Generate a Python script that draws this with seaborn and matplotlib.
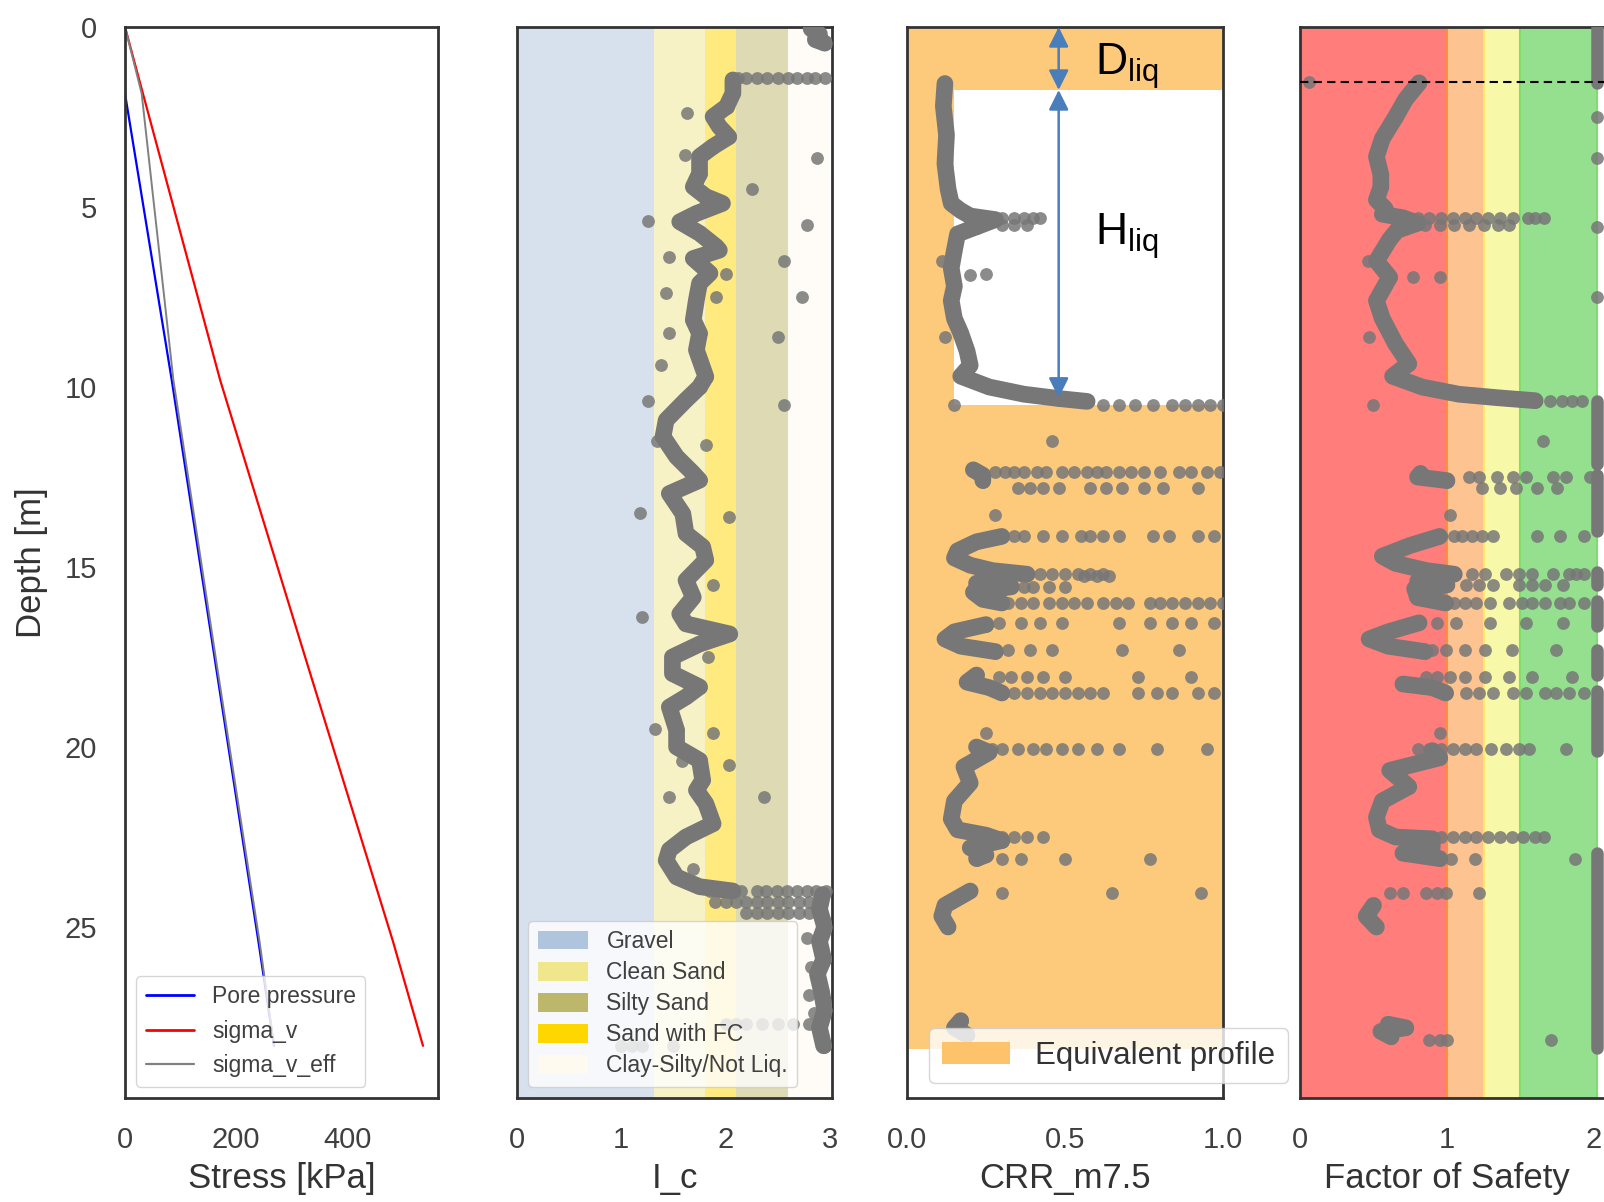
import matplotlib
matplotlib.use("Agg")
import matplotlib.pyplot as plt
from matplotlib.patches import Patch
from matplotlib.lines import Line2D
import seaborn as sns

# ---------------- panel 1 : stresses ----------------
stress_depth = [0.0, 9.8, 17.6, 25.4, 28.3]
sigma_v = [0, 171, 326, 482, 536]
eff_depth = [0.0, 1.85, 9.8, 17.6, 25.4, 28.3]
sigma_v_eff = [0, 30, 87, 164, 242, 268]
pore_depth = [1.85, 9.8, 17.6, 25.4, 28.3]
pore_pressure = [0, 84, 162, 240, 268]

# ---------------- panel 2 : Ic ----------------
ic_depth = [1.47, 1.84, 2.21, 2.49, 2.77, 3.05, 3.32, 3.6, 4.07, 4.44, 4.71, 4.9, 5.18, 5.41,
            5.73, 6.1, 6.2, 6.43, 6.84, 7.12, 7.58, 8.14, 8.51, 8.97, 9.71, 10.0, 10.36, 10.92,
            11.38, 11.94, 12.4, 12.59, 12.96, 13.52, 14.07, 14.44, 14.81, 15.37, 15.84, 16.3,
            16.58, 16.86, 17.14, 17.5, 17.96, 18.33, 18.61, 18.89, 19.53, 20.0, 20.37, 20.92,
            21.2, 21.57, 22.13, 22.5, 22.86, 23.15, 23.61, 23.88, 24.0,
            24.1, 24.5, 25.0, 25.4, 25.9, 26.3, 26.8, 27.3, 27.8, 28.3,
            0.05, 0.2, 0.35, 0.45]
ic_value = [2.07, 2.07, 2.01, 1.88, 1.94, 2.03, 1.88, 1.75, 1.75, 1.69, 1.81, 1.97, 1.72, 1.56,
            1.75, 1.91, 1.94, 1.69, 1.85, 1.75, 1.72, 1.69, 1.75, 1.72, 1.81, 1.75, 1.62, 1.43,
            1.40, 1.53, 1.69, 1.75, 1.46, 1.59, 1.62, 1.78, 1.81, 1.62, 1.69, 1.56,
            1.62, 2.04, 1.75, 1.49, 1.49, 1.75, 1.62, 1.46, 1.53, 1.53, 1.75, 1.78,
            1.72, 1.81, 1.88, 1.62, 1.46, 1.43, 1.53, 1.75, 2.07,
            2.93, 2.9, 2.95, 2.9, 2.94, 2.88, 2.92, 2.95, 2.9, 2.94,
            2.82, 2.9, 2.86, 2.95]
ic_seg = [0] * 61 + [1] * 10 + [2] * 4

ic_dot_depth = [2.4, 3.55, 3.65, 4.5, 5.4, 5.5, 6.4, 6.5, 6.85, 7.4, 7.5, 7.5, 8.5, 8.6, 9.4,
                10.4, 10.5, 11.5, 11.6, 13.5, 13.6, 15.5, 16.4, 17.5, 19.5, 19.6, 20.4, 20.5,
                21.4, 21.4, 23.4, 28.3, 28.3, 28.3, 28.3, 25.3, 26.1, 26.9, 27.4]
ic_dot_value = [1.63, 1.61, 2.88, 2.25, 1.26, 2.78, 1.46, 2.56, 2.0, 1.43, 1.91, 2.73, 1.46, 2.5, 1.38,
                1.26, 2.56, 1.34, 1.81, 1.18, 2.03, 1.88, 1.2, 1.83, 1.32, 1.88, 1.58, 2.03,
                1.46, 2.37, 1.69, 1.0, 1.1, 1.2, 1.5, 2.78, 2.82, 2.8, 2.85]
ic_row_depth = [1.43, 24.0, 24.3, 24.6, 27.7]
ic_row_values = [[2.12, 2.2, 2.3, 2.4, 2.5, 2.6, 2.68, 2.78, 2.86, 2.95],
                 [1.85, 1.95, 2.05, 2.15, 2.3, 2.39, 2.49, 2.59, 2.68, 2.78, 2.87, 2.96],
                 [1.9, 2.0, 2.1, 2.2, 2.3, 2.4, 2.5, 2.6, 2.7, 2.8, 2.9],
                 [2.2, 2.3, 2.4, 2.5, 2.6, 2.7, 2.8],
                 [2.0, 2.1, 2.2, 2.35, 2.5, 2.65, 2.8]]

soil_names = ["Gravel", "Clean Sand", "Silty Sand", "Sand with FC", "Clay-Silty/Not Liq."]
soil_low = [0.0, 1.31, 2.1, 1.8, 2.6]
soil_high = [1.31, 1.8, 2.6, 2.1, 3.0]
soil_colors = ["lightsteelblue", "khaki", "darkkhaki", "gold", "floralwhite"]

# ---------------- panel 3 : CRR ----------------
crr_depth = [1.57, 2.2, 3.0, 3.8, 4.5, 4.9, 5.1, 5.25, 5.35, 5.55, 5.75, 6.2, 6.7,
             7.2, 7.6, 8.1, 8.5, 9.0, 9.4, 9.7, 10.0, 10.2, 10.32, 10.4,
             12.3, 12.45, 12.6,
             14.15, 14.3, 14.55, 14.75, 14.95, 15.1, 15.2,
             15.45, 15.55, 15.7, 15.9, 16.0,
             16.6, 16.8, 17.0, 17.2, 17.35,
             18.0, 18.2, 18.35, 18.5,
             20.0, 20.15, 20.55, 21.0, 21.5, 22.0, 22.3, 22.45, 22.6, 22.8, 23.0, 23.1,
             24.0, 24.4, 24.7, 25.0,
             27.6, 27.8, 28.0]
crr_value = [0.12, 0.115, 0.125, 0.12, 0.13, 0.14, 0.17, 0.2, 0.28, 0.22, 0.16, 0.15, 0.14,
             0.15, 0.14, 0.15, 0.17, 0.19, 0.2, 0.17, 0.26, 0.37, 0.48, 0.57,
             0.21, 0.24, 0.24,
             0.3, 0.22, 0.16, 0.15, 0.2, 0.27, 0.38,
             0.22, 0.33, 0.21, 0.24, 0.3,
             0.25, 0.15, 0.12, 0.17, 0.28,
             0.22, 0.19, 0.26, 0.3,
             0.22, 0.26, 0.18, 0.2, 0.15, 0.14, 0.16, 0.25, 0.3, 0.2, 0.25, 0.22,
             0.2, 0.12, 0.11, 0.13,
             0.17, 0.15, 0.19]
crr_seg = [0] * 24 + [1] * 3 + [2] * 7 + [3] * 5 + [4] * 5 + [5] * 4 + [6] * 12 + [7] * 4 + [8] * 3

crr_dot_depth = [6.5, 6.85, 6.9, 8.6, 10.5, 11.5, 13.55, 19.6]
crr_dot_value = [0.11, 0.25, 0.2, 0.12, 0.15, 0.46, 0.28, 0.25]
crr_row_depth = [5.3, 5.5, 10.5, 12.35, 12.8, 14.15, 15.2, 15.25, 15.55, 16.0, 16.55, 17.3, 18.05,
                 18.5, 20.05, 22.5, 23.1, 24.05]
crr_row_values = [[0.22, 0.26, 0.3, 0.34, 0.37, 0.4, 0.42],
                  [0.3, 0.34, 0.38],
                  [0.62, 0.67, 0.72, 0.78, 0.84, 0.88, 0.92, 0.96, 1.0],
                  [0.28, 0.31, 0.34, 0.37, 0.41, 0.44, 0.49, 0.53, 0.57, 0.6, 0.63, 0.67, 0.71,
                   0.75, 0.8, 0.86, 0.9, 0.95, 0.99],
                  [0.35, 0.39, 0.43, 0.48, 0.58, 0.63, 0.68, 0.75, 0.81, 0.92],
                  [0.34, 0.37, 0.43, 0.49, 0.55, 0.58, 0.62, 0.67, 0.78, 0.83, 0.92, 0.97],
                  [0.42, 0.46, 0.5, 0.54, 0.58, 0.62],
                  [0.56, 0.6, 0.64],
                  [0.37, 0.4, 0.45, 0.5],
                  [0.32, 0.36, 0.4, 0.45, 0.49, 0.53, 0.57, 0.62, 0.66, 0.7, 0.77, 0.8, 0.84,
                   0.88, 0.92, 0.96, 1.0],
                  [0.29, 0.36, 0.42, 0.49, 0.67, 0.77, 0.84, 0.9, 0.97],
                  [0.32, 0.39, 0.46, 0.68, 0.86],
                  [0.29, 0.33, 0.38, 0.43, 0.5, 0.73, 0.9],
                  [0.34, 0.38, 0.42, 0.46, 0.5, 0.54, 0.58, 0.62, 0.73, 0.79, 0.84, 0.92, 0.97],
                  [0.27, 0.3, 0.35, 0.4, 0.44, 0.49, 0.54, 0.6, 0.67, 0.79, 0.95],
                  [0.3, 0.34, 0.38, 0.43],
                  [0.3, 0.36, 0.5, 0.77],
                  [0.3, 0.65, 0.93]]

equiv_depth = [0.0, 1.75, 1.75, 10.5, 10.5, 28.4]
equiv_crr = [1.0, 1.0, 0.15, 0.15, 1.0, 1.0]
d_liq = [0.0, 1.75]
h_liq = [1.75, 10.3]

# ---------------- panel 4 : factor of safety ----------------
fs_depth = [1.55, 2.0, 2.5, 3.1, 3.6, 4.1, 4.45, 4.8, 5.05, 5.2, 5.3, 5.45, 5.65, 5.9, 6.5, 6.95,
            7.6, 8.1, 8.8, 9.35, 9.7, 10.0, 10.2, 10.3, 10.38,
            12.4, 12.5, 12.6,
            14.15, 14.4, 14.7, 14.9, 15.1, 15.2,
            15.4, 15.5, 15.6, 15.85, 16.0,
            16.55, 16.8, 17.0, 17.2, 17.35,
            18.25, 18.35, 18.5,
            20.1, 20.3, 20.65, 21.1, 21.5, 21.95, 22.3, 22.5, 22.55, 22.8, 22.95, 23.1,
            24.4, 24.7, 25.0,
            27.7, 27.8, 27.9, 28.05]
fs_value = [0.81, 0.72, 0.65, 0.56, 0.52, 0.55, 0.55, 0.52, 0.58, 0.56, 0.7, 0.8, 0.66, 0.61, 0.52, 0.61,
            0.52, 0.56, 0.65, 0.74, 0.63, 0.83, 1.08, 1.35, 1.6,
            0.82, 0.8, 1.0,
            0.95, 0.75, 0.56, 0.65, 0.86, 1.05,
            0.8, 1.0, 0.78, 0.8, 0.99,
            0.81, 0.6, 0.47, 0.6, 0.85,
            0.7, 0.9, 0.99,
            0.9, 0.95, 0.61, 0.74, 0.56, 0.52, 0.54, 0.65, 0.9, 0.9, 0.7, 0.95,
            0.5, 0.45, 0.52,
            0.6, 0.72, 0.55, 0.62]
fs_seg = [0] * 25 + [1] * 3 + [2] * 6 + [3] * 5 + [4] * 5 + [5] * 3 + [6] * 12 + [7] * 3 + [8] * 4

fs_dot_depth = [1.53, 6.5, 6.95, 6.95, 8.6, 10.5, 11.5, 2.5, 3.65, 5.55, 7.5, 13.55, 19.6]
fs_dot_value = [0.06, 0.46, 0.77, 0.95, 0.47, 0.5, 1.65, 2.02, 2.02, 2.02, 2.02, 1.02, 0.95]
fs_row_depth = [5.3, 5.5, 10.4, 12.5, 12.8, 14.15, 15.2, 15.5, 16.0, 16.55, 17.3, 18.05, 18.5,
                20.05, 22.5, 23.1, 24.05, 28.15]
fs_row_values = [[0.8, 0.88, 0.96, 1.04, 1.12, 1.2, 1.28, 1.36, 1.45, 1.55, 1.6, 1.66],
                 [0.75, 0.85, 0.95, 1.05, 1.15, 1.25, 1.35, 1.42],
                 [1.7, 1.78, 1.85, 1.92],
                 [1.15, 1.22, 1.34, 1.45, 1.54, 1.72, 1.81, 1.97],
                 [1.24, 1.36, 1.47, 1.61, 1.75],
                 [1.05, 1.1, 1.17, 1.24, 1.31, 1.61, 1.77, 1.93],
                 [1.17, 1.26, 1.4, 1.49, 1.58, 1.72, 1.83, 1.88, 1.93],
                 [1.13, 1.22, 1.31, 1.49, 1.58, 1.67, 1.79],
                 [1.05, 1.12, 1.2, 1.29, 1.42, 1.51, 1.58, 1.67, 1.77, 1.83, 1.93],
                 [0.93, 1.06, 1.29, 1.54, 1.79],
                 [0.9, 0.99, 1.12, 1.26, 1.44, 1.74],
                 [0.86, 0.93, 1.02, 1.12, 1.26, 1.42, 1.58, 1.85],
                 [1.13, 1.22, 1.31, 1.45, 1.54, 1.67, 1.74, 1.83, 1.93],
                 [0.8, 0.88, 0.96, 1.04, 1.12, 1.2, 1.3, 1.4, 1.49, 1.56, 1.81],
                 [0.72, 0.8, 0.88, 0.96, 1.04, 1.12, 1.2, 1.28, 1.36, 1.44, 1.52, 1.6, 1.66],
                 [1.03, 1.19, 1.87],
                 [0.61, 0.7, 0.86, 0.93, 0.99, 1.22],
                 [0.88, 0.95, 1.0, 1.71]]
fs_cap = 2.02
fs_cap_top = [0.0, 10.4, 12.45, 15.15, 15.95, 17.3, 18.45, 22.95]
fs_cap_bottom = [1.55, 12.15, 14.0, 15.5, 16.65, 18.0, 20.1, 28.35]
water_table = 1.53

fs_low = [0.0, 1.0, 1.25, 1.5]
fs_high = [1.0, 1.25, 1.5, 2.02]
fs_colors = ["#ff7d7b", "#fdc491", "#f7f9a9", "#94e08f"]
fs_edges = ["#ff7d7b", "#ff8f3a", "#fbe870", "#7fdc6e"]

# ---------------- style ----------------
sns.set_style("white")
plt.rcParams['font.family'] = ['Liberation Sans', 'DejaVu Sans']
plt.rcParams['axes.edgecolor'] = '.2'
plt.rcParams['axes.linewidth'] = 2.0
plt.rcParams['text.color'] = '.15'

max_depth = 29.75
gray = "#777777"
tick_fs = 21
label_fs = 25


def expand_rows(depths, rows):
    dd, vv = [], []
    for d, vals in zip(depths, rows):
        for v in vals:
            dd.append(d)
            vv.append(v)
    return dd, vv


def draw_profile(ax, value, depth, seg, dot_value, dot_depth):
    sns.lineplot(x=value, y=depth, units=seg, estimator=None, sort=False, color=gray,
                 lw=12, solid_capstyle='round', solid_joinstyle='round', legend=False, ax=ax, zorder=3)
    sns.scatterplot(x=value, y=depth, color=gray, s=110, linewidth=0, alpha=0.9, legend=False,
                    ax=ax, zorder=3)
    sns.scatterplot(x=dot_value, y=dot_depth, color=gray, s=85, linewidth=0, alpha=0.85,
                    legend=False, ax=ax, zorder=3)


def finish(ax, xlim, xticks, xlabel, show_y=False):
    ax.set_xlim(*xlim)
    ax.set_ylim(max_depth, 0)
    ax.set_xticks(xticks)
    ax.set_xlabel(xlabel, fontsize=label_fs, labelpad=6, color='.2')
    ax.tick_params(axis='x', length=0, pad=20, labelsize=tick_fs, labelcolor='.25')
    if show_y:
        ax.set_yticks([0, 5, 10, 15, 20, 25])
        ax.tick_params(axis='y', length=0, pad=20, labelsize=tick_fs, labelcolor='.25')
        ax.set_ylabel("Depth [m]", fontsize=label_fs, labelpad=12, color='.2')
    else:
        ax.set_yticks([])
        ax.set_ylabel("")
    for sp in ax.spines.values():
        sp.set_visible(True)


fig = plt.figure(figsize=(16.04, 12.02), dpi=100)
ax1 = fig.add_axes([125 / 1604, 104 / 1202, 313 / 1604, 1071 / 1202])
ax2 = fig.add_axes([517 / 1604, 104 / 1202, 315 / 1604, 1071 / 1202])
ax3 = fig.add_axes([907 / 1604, 104 / 1202, 316 / 1604, 1071 / 1202])
ax4 = fig.add_axes([1300 / 1604, 104 / 1202, 316 / 1604, 1071 / 1202])

leg_kw = dict(frameon=True, fancybox=True, framealpha=0.8, edgecolor='0.8')

# panel 1
sns.lineplot(x=pore_pressure, y=pore_depth, sort=False, estimator=None, color='blue', lw=1.6, ax=ax1)
sns.lineplot(x=sigma_v, y=stress_depth, sort=False, estimator=None, color='red', lw=1.6, ax=ax1)
sns.lineplot(x=sigma_v_eff, y=eff_depth, sort=False, estimator=None, color='gray', lw=1.4, ax=ax1)
h1 = [Line2D([], [], color='blue', lw=2), Line2D([], [], color='red', lw=2),
      Line2D([], [], color='gray', lw=1.6)]
ax1.legend(h1, ["Pore pressure", "sigma_v", "sigma_v_eff"], loc='lower left', fontsize=16.5,
           handlelength=2.1, labelcolor='.25', **leg_kw)
finish(ax1, (0, 563), [0, 200, 400], "Stress [kPa]", show_y=True)

# panel 2
for lo, hi, c in zip(soil_low, soil_high, soil_colors):
    ax2.axvspan(lo, hi, color=c, alpha=0.5, lw=0, zorder=0)
ic_rd, ic_rv = expand_rows(ic_row_depth, ic_row_values)
draw_profile(ax2, ic_value, ic_depth, ic_seg, ic_dot_value + ic_rv, ic_dot_depth + ic_rd)
h2 = [Patch(facecolor=c, edgecolor='none') for c in soil_colors]
ax2.legend(h2, soil_names, loc='lower left', fontsize=16.5, handlelength=2.2, handleheight=0.85,
           labelspacing=0.35, labelcolor='.25', **leg_kw)
finish(ax2, (0, 3.02), [0, 1, 2, 3], "I_c")

# panel 3
equiv_color = "#fdca7b"
ax3.fill_betweenx(equiv_depth, 0, equiv_crr, color=equiv_color, lw=0, zorder=0)
crr_rd, crr_rv = expand_rows(crr_row_depth, crr_row_values)
draw_profile(ax3, crr_value, crr_depth, crr_seg, crr_dot_value + crr_rv, crr_dot_depth + crr_rd)
arrow_c = "#4a7ebb"
for d0, d1 in (d_liq, h_liq):
    ax3.annotate('', xy=(0.48, d0), xytext=(0.48, d1),
                 arrowprops=dict(arrowstyle='<|-|>', color=arrow_c, lw=1.8, mutation_scale=30,
                                 shrinkA=0, shrinkB=0), zorder=6)
ax3.text(0.595, 1.33, r"D$_{\mathregular{liq}}$", fontsize=32, color='black', va='baseline', zorder=6)
ax3.text(0.595, 6.05, r"H$_{\mathregular{liq}}$", fontsize=32, color='black', va='baseline', zorder=6)
h3 = [Patch(facecolor="#fcc36b", edgecolor='none')]
ax3.legend(h3, ["Equivalent profile"], loc='lower right', bbox_to_anchor=(1.206, 0.014),
           borderaxespad=0, fontsize=22.5, handlelength=2.2, labelcolor='.2', **leg_kw)
finish(ax3, (0, 1.0), [0.0, 0.5, 1.0], "CRR_m7.5")
ax3.set_xticklabels(["0.0", "0.5", "1.0"])

# panel 4
for lo, hi, c, e in zip(fs_low, fs_high, fs_colors, fs_edges):
    ax4.axvspan(lo, hi, facecolor=c, edgecolor=e, lw=1.5, zorder=0)
fs_rd, fs_rv = expand_rows(fs_row_depth, fs_row_values)
draw_profile(ax4, fs_value, fs_depth, fs_seg, fs_dot_value + fs_rv, fs_dot_depth + fs_rd)
ax4.vlines([fs_cap] * len(fs_cap_top), fs_cap_top, fs_cap_bottom, color=gray, lw=9,
           capstyle='round', zorder=3)
ax4.axhline(water_table, color='black', ls=(0, (4, 2.5)), lw=1.5, zorder=5)
finish(ax4, (0, 2.15), [0, 1, 2], "Factor of Safety")
ax4.xaxis.label.set_position((0.465, 0))

fig.savefig("out.png", dpi=100)
